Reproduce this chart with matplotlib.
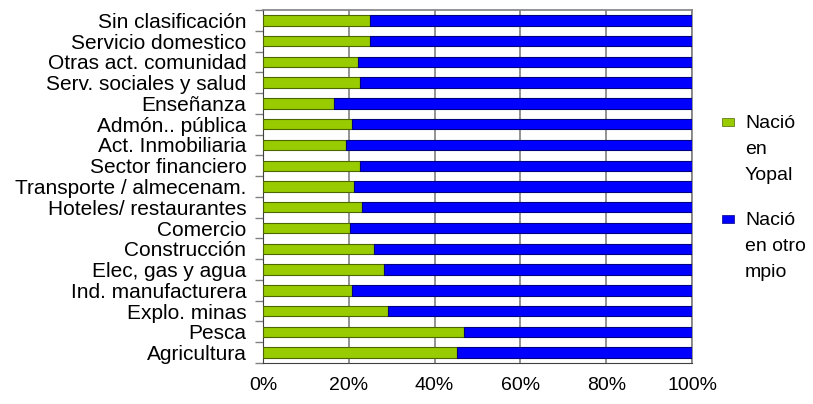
import matplotlib
matplotlib.use('Agg')
from matplotlib import pyplot as plt
from matplotlib.patches import Rectangle

plt.rcParams['font.family'] = ['Liberation Sans', 'DejaVu Sans']

# categories from bottom to top
sectores = ['Agricultura', 'Pesca', 'Explo. minas', 'Ind. manufacturera',
            'Elec, gas y agua', 'Construcción', 'Comercio',
            'Hoteles/ restaurantes', 'Transporte / almecenam.',
            'Sector financiero', 'Act. Inmobiliaria', 'Admón.. pública',
            'Enseñanza', 'Serv. sociales y salud', 'Otras act. comunidad',
            'Servicio domestico', 'Sin clasificación']
# share born in Yopal (%)
yopal = [45.2, 46.9, 29.1, 20.7, 28.2, 25.9, 20.3, 23.1, 21.2, 22.6,
         19.3, 20.7, 16.6, 22.6, 22.1, 24.9, 24.9]
otro = [100 - v for v in yopal]
series = ['Nació\nen\nYopal', 'Nació\nen otro\nmpio']

green = '#99cc00'
blue = '#0000ff'

W, H = 813, 404
fig = plt.figure(figsize=(W / 100, H / 100), dpi=100)
ax = fig.add_axes([263 / W, 1 - 363 / H, 429 / W, 353 / H])

y = list(range(len(sectores)))
ax.barh(y, yopal, height=0.5, color=green, edgecolor='#4d6600', linewidth=0.8,
        zorder=3)
ax.barh(y, otro, left=yopal, height=0.5, color=blue, edgecolor='#000080',
        linewidth=0.8, zorder=3)

ax.set_xlim(0, 100)
ax.set_ylim(-0.5, len(sectores) - 0.5)
ax.set_xticks([0, 20, 40, 60, 80, 100])
ax.set_xticklabels(['0%', '20%', '40%', '60%', '80%', '100%'], fontsize=14)
ax.xaxis.grid(True, color='#808080', linewidth=1.2, zorder=0)
ax.tick_params(axis='x', length=0, pad=10)

ax.set_yticks(y)
ax.set_yticklabels(sectores, fontsize=15)
ax.tick_params(axis='y', which='major', length=0, pad=12)
ax.set_yticks([i - 0.5 for i in range(len(sectores) + 1)], minor=True)
ax.tick_params(axis='y', which='minor', length=6, width=1, color='#808080',
               direction='out')

for s in ['top', 'right']:
    ax.spines[s].set_color('#808080')
    ax.spines[s].set_linewidth(1.2)
ax.spines['left'].set_color('#404040')
ax.spines['bottom'].set_color('#404040')

# legend drawn by hand: marker beside the first line of each label
for lab, col, edge, ymid in [(series[0], green, '#4d6600', 122),
                             (series[1], blue, '#000080', 219)]:
    fig.patches.append(Rectangle((722 / W, 1 - (ymid + 4) / H), 12 / W, 8 / H,
                                 transform=fig.transFigure, facecolor=col,
                                 edgecolor=edge, linewidth=0.5))
    fig.text(745 / W, 1 - (ymid - 7) / H, lab, fontsize=14, va='top',
             ha='left', linespacing=1.68)

fig.savefig('out.png', dpi=100)
